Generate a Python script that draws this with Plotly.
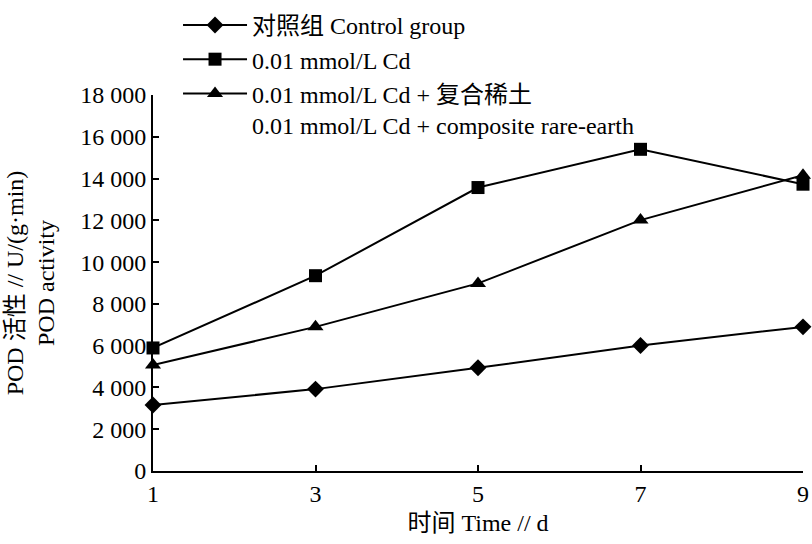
import plotly.graph_objects as go

days = [1, 3, 5, 7, 9]
control = [3160, 3920, 4940, 6010, 6900]
cd = [5890, 9350, 13570, 15400, 13730]
cd_re = [5070, 6900, 8980, 12010, 14160]

names = ["对照组 Control group", "0.01 mmol/L Cd",
         "0.01 mmol/L Cd + 复合稀土<br>0.01 mmol/L Cd + composite rare-earth"]
symbols = ["diamond", "square", "triangle-up"]
sizes = [13, 13, 14]

y_ticks = [0, 2000, 4000, 6000, 8000, 10000, 12000, 14000, 16000, 18000]
x_ticks = [1, 3, 5, 7, 9]

FONT = "Liberation Serif, Noto Sans CJK SC, serif"

fig = go.Figure()
for vals, name, sym, sz in zip([control, cd, cd_re], names, symbols, sizes):
    fig.add_trace(go.Scatter(
        x=days, y=vals, name=name, mode="lines+markers",
        line=dict(color="black", width=2),
        marker=dict(symbol=sym, size=sz, color="black"),
        cliponaxis=False,
    ))

fig.update_layout(
    width=812, height=544,
    margin=dict(l=153, r=9, t=95, b=73, autoexpand=False),
    paper_bgcolor="white", plot_bgcolor="white",
    font=dict(family=FONT, size=24, color="black"),
    separators=". ",
    showlegend=True,
    legend=dict(x=0.0385, y=1.245, xanchor="left", yanchor="top",
                bgcolor="rgba(0,0,0,0)", valign="top",
                font=dict(family=FONT, size=24), itemwidth=64,
                tracegroupgap=0),
)
fig.update_xaxes(
    range=[1, 9], tickvals=x_ticks, showgrid=False, zeroline=False,
    showline=True, linecolor="black", linewidth=2,
    ticks="inside", ticklen=6, tickwidth=2, tickcolor="black",
    tickfont=dict(size=24), automargin=False,
    title=dict(text="时间 Time // d", font=dict(size=24), standoff=8),
)
fig.update_yaxes(
    range=[0, 18000], tickvals=y_ticks, tickformat=",", showgrid=False,
    zeroline=False, showline=True, linecolor="black", linewidth=2,
    ticks="inside", ticklen=6, tickwidth=2, tickcolor="black",
    tickfont=dict(size=24), automargin=False,
    title=dict(text="POD 活性 // U/(g·min)<br>POD activity", font=dict(size=24), standoff=19),
)

fig.write_html("out.html", config={"displayModeBar": False},
               post_script="document.body.style.margin='0';")
